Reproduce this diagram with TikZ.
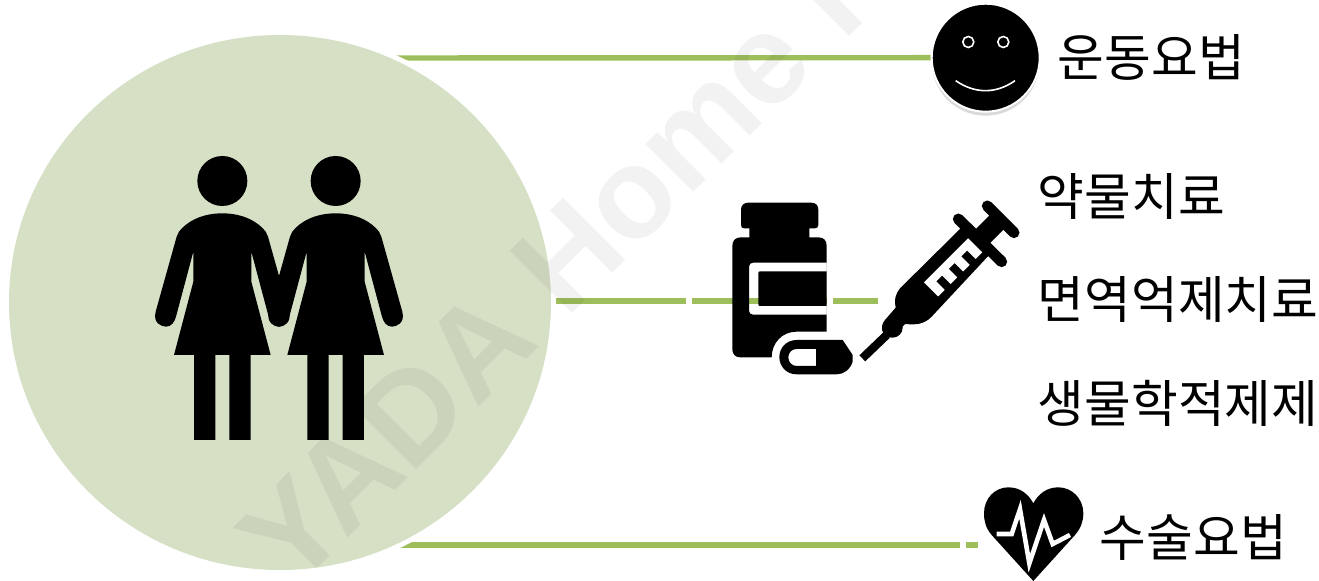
\documentclass[tikz,border=0pt]{standalone}
\usepackage{fontspec}
\usepackage{xcolor}
\usepackage{tikz}
\usetikzlibrary{positioning, shapes.geometric, shadows}
\newfontfamily\koreanfont{Noto Sans CJK KR}
\newfontfamily\markfont{Liberation Sans}
\definecolor{linkgreen}{HTML}{9EBE5C}
\definecolor{discgreen}{HTML}{D6E0C4}

\begin{document}
\begin{tikzpicture}[
      x=0.5pt, y=-0.5pt,
      node distance=28.3pt,
      link/.style={draw=linkgreen, line width=2.7pt},
      therapy/.style={anchor=west, inner sep=0pt, font=\koreanfont\fontsize{25.4}{25.4}\selectfont},
      disc/.style={ellipse, fill=discgreen, inner sep=0pt, minimum width=271pt, minimum height=267.5pt},
      smiley/.style={circle, fill=black, draw=white, line width=1pt, inner sep=0pt, minimum size=54pt,
                     drop shadow={shadow xshift=0pt, shadow yshift=-2pt, opacity=.3}},
      watermark/.style={rotate=45, anchor=base west, inner sep=0pt, opacity=.05, text=black,
                        font=\markfont\bfseries\fontsize{64}{64}\selectfont}
    ]
    \clip (0,0) rectangle (1319,581);

    \coordinate (exerciseStart) at (385,58);
    \coordinate (drugStart)     at (556,301);
    \coordinate (drugEnd)       at (878,301);
    \coordinate (surgeryStart)  at (385,545);
    \coordinate (surgeryEnd)    at (978,545);

    \node[smiley] (smile) at (985.7,57.7) {};
    \draw[white, line width=.8pt] (smile) ++(-17.4,-15.7) circle[radius=5.5];
    \draw[white, line width=.8pt] (smile) ++(17.6,-15.7) circle[radius=5.5];
    \draw[white, line width=.8pt] (955.7,80.7) .. controls (975,94) and (996,94) .. (1015,80.7);

    \draw[link] (exerciseStart) -- (smile.west);
    \draw[link, dash pattern=on 65pt off 3pt on 67.5pt off 3pt on 22.5pt off 10pt] (drugStart) -- (drugEnd);
    \draw[link, dash pattern=on 287.5pt off 2.8pt on 6.2pt off 10pt] (surgeryStart) -- (surgeryEnd);

    % disc with its white rim
    \fill[white] (280,302.5) ellipse[x radius=276, y radius=272.5];
    \node[disc] (people) at (280,302.5) {};

    % two women
    \begin{scope}[shift={(130,140)}, scale=1/3]
      \foreach \figx in {0,340} {
        \begin{scope}[shift={(\figx,0)}]
          \fill (277,123) circle[radius=75];
          \fill (277,220) .. controls (215,220) and (170,245) .. (147,275) -- (140,290) -- (77,515)
            .. controls (68,550) and (95,560) .. (108,560) .. controls (125,560) and (134,545) .. (138,530)
            -- (190,335) -- (190,425) -- (132,645) -- (192,645) -- (192,900) -- (256,900) -- (256,645)
            -- (298,645) -- (298,900) -- (362,900) -- (362,645) -- (422,645) -- (364,425) -- (364,335)
            -- (416,530) .. controls (420,545) and (429,560) .. (446,560) .. controls (459,560) and (486,550) .. (477,515)
            -- (414,290) -- (407,275) .. controls (384,245) and (339,220) .. (277,220) -- cycle;
        \end{scope}
      }
    \end{scope}

    % bottle and pill
    \begin{scope}[shift={(680,180)}, scale=1/3]
      \fill[even odd rule]
        (205,68) -- (393,68) .. controls (408,68) and (415,76) .. (415,90) -- (415,135)
        .. controls (415,142) and (410,145) .. (405,145) -- (388,145) -- (388,172) -- (415,172)
        .. controls (432,172) and (440,182) .. (440,198) -- (440,455) -- (350,455)
        .. controls (305,455) and (275,490) .. (275,532) -- (180,532)
        .. controls (166,532) and (157,522) .. (157,508) -- (157,198)
        .. controls (157,182) and (166,172) .. (183,172) -- (208,172) -- (208,145) -- (192,145)
        .. controls (187,145) and (183,142) .. (183,135) -- (183,90)
        .. controls (183,76) and (191,68) .. (205,68) -- cycle
        (219,248) -- (440,248) -- (440,404) -- (219,404)
        .. controls (212,404) and (207,399) .. (207,392) -- (207,260)
        .. controls (207,253) and (212,248) .. (219,248) -- cycle;
      \fill (240,274) -- (440,274) -- (440,378) -- (240,378) .. controls (236,378) and (235,376) .. (235,372)
        -- (235,280) .. controls (235,276) and (236,274) .. (240,274) -- cycle;
      \fill[even odd rule]
        (350,480) -- (488,480) -- (518,525) -- (518,545) .. controls (510,570) and (490,583) .. (470,583)
        -- (350,583) .. controls (318,583) and (298,558) .. (298,531) .. controls (298,505) and (318,480) .. (350,480) -- cycle
        (350,507) -- (408,507) -- (408,558) -- (350,558) .. controls (335,558) and (325,546) .. (325,532)
        .. controls (325,518) and (335,507) .. (350,507) -- cycle;
    \end{scope}

    % syringe
    \begin{scope}[shift={(850,195)}, scale=1/3]
      \draw[line width=5.5pt, line cap=round] (412,33) -- (492,113);
      \draw[line width=5.5pt, line cap=round] (325,72) -- (455,200);
      \draw[line width=10pt] (450,72) -- (385,137);
      \fill (332,100) -- (425,172) -- (245,365) .. controls (222,388) and (200,390) .. (165,387)
        -- (135,420) .. controls (125,432) and (110,430) .. (100,415) .. controls (92,400) and (96,385) .. (105,375)
        -- (137,338) .. controls (132,310) and (138,295) .. (150,280) -- cycle;
      \fill (128,398) circle[radius=30];
      \draw[line width=4.2pt] (110,420) -- (37,490);
      \begin{scope}[shift={(222,262)}, rotate=45]
        \fill[white] (0,0) -- (187,0) -- (187,60) -- (159,60) -- (159,24) -- (134,24) -- (134,60) -- (106,60)
          -- (106,24) -- (81,24) -- (81,60) -- (53,60) -- (53,24) -- (28,24) -- (28,60) -- (0,60) -- cycle;
      \end{scope}
    \end{scope}

    % heart
    \begin{scope}[shift={(930,470)}, scale=1/3]
      \fill (310,333) -- (185,195) .. controls (168,175) and (162,155) .. (162,130)
        .. controls (162,85) and (195,52) .. (235,52) .. controls (270,52) and (295,72) .. (310,100)
        .. controls (325,72) and (350,52) .. (385,52) .. controls (425,52) and (460,85) .. (460,130)
        .. controls (460,155) and (452,175) .. (435,195) -- cycle;
      \draw[white, line width=2.3pt] (200,192) -- (245,192) -- (270,118) -- (298,280) -- (342,150)
        -- (368,222) -- (420,195);
    \end{scope}

    \node[therapy] (exercise) at (1057.5,57) {운동요법};
    \node[therapy] (drug) at (1037.5,196) {약물치료};
    \node[therapy, below=of drug.south west, anchor=north west] (immuno) {면역억제치료};
    \node[therapy, below=of immuno.south west, anchor=north west] (biologic) {생물학적제제};
    \node[therapy] (surgery) at (1099.5,537) {수술요법};

    \node[watermark] (mark) at (293,593) {YADA Home H};
  \end{tikzpicture}
\end{document}
